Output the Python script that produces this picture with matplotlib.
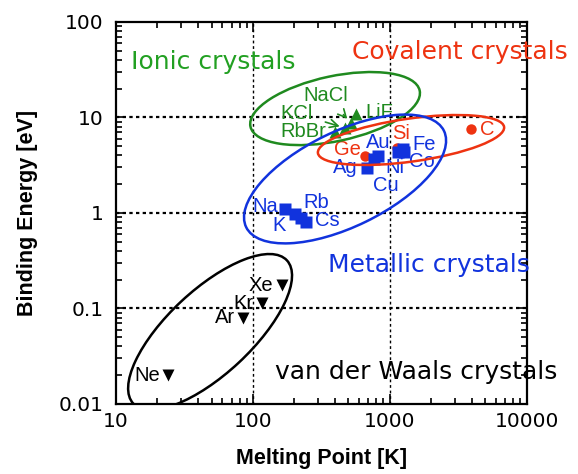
import matplotlib
matplotlib.use('Agg')
import matplotlib.pyplot as plt
from matplotlib.patches import Ellipse
from matplotlib.transforms import ScaledTranslation
from matplotlib.ticker import LogLocator, NullFormatter

# melting point [K], binding energy [eV]
ionic_names = ['LiF', 'NaCl', 'KCl', 'RbBr']
ionic_tm = [568, 522, 472, 399]
ionic_eb = [10.9, 8.75, 7.76, 7.05]

covalent_names = ['Ge', 'Si', 'C']
covalent_tm = [661, 1127, 3935]
covalent_eb = [3.95, 4.75, 7.5]

metal_names = ['Cu', 'Au', 'Ag', 'Fe', 'Co', 'Ni', 'Na', 'K', 'Rb', 'Cs']
metal_tm = [769, 822, 678, 1253, 1274, 1151, 173, 203, 225, 245]
metal_eb = [3.68, 3.95, 2.94, 4.73, 4.35, 4.35, 1.11, 0.976, 0.887, 0.805]

vdw_names = ['Xe', 'Kr', 'Ar', 'Ne']
vdw_tm = [163, 116, 84.3, 24.1]
vdw_eb = [0.176, 0.113, 0.080, 0.0201]

xticks = [10, 100, 1000, 10000]
xticklabels = ['10', '100', '1000', '10000']
yticks = [0.01, 0.1, 1, 10, 100]
yticklabels = ['0.01', '0.1', '1', '10', '100']

green = '#1f8a1f'
red = '#ee3311'
blue = '#1133dd'

# label offsets from the marker, in pixels
offsets = {
    'LiF': (23, 1.5), 'NaCl': (-25, 28), 'KCl': (-48, 14.5), 'RbBr': (-32, 0.5),
    'Ge': (-18, 7), 'Si': (4, 14.5), 'C': (16, 0),
    'Au': (0, 13.5), 'Cu': (11.5, -27), 'Ag': (-21.5, 1), 'Fe': (21, 4.5),
    'Co': (17.5, -9.5), 'Ni': (-3, -15.5), 'Na': (-20, 2), 'K': (-16, -11.5),
    'Rb': (15, 15.5), 'Cs': (21.5, 1.5),
    'Xe': (-21.5, 0), 'Kr': (-18, 0), 'Ar': (-18, 0), 'Ne': (-21, 0),
}
arrows = ['NaCl', 'KCl']

fig = plt.figure(figsize=(5.78, 4.74), dpi=100)
ax = fig.add_axes([0.2007, 0.1477, 0.7102, 0.8059])
ax.set_xscale('log')
ax.set_yscale('log')
ax.set_xlim(10, 10000)
ax.set_ylim(0.01, 100)

ax.plot(covalent_tm, covalent_eb, 'o', color=red, ms=7.5, mec='none', zorder=3)
ax.plot(ionic_tm, ionic_eb, '^', color=green, ms=9, mec='none', zorder=3)
ax.plot(metal_tm, metal_eb, 's', color=blue, ms=8.5, mec='none', zorder=4)
ax.plot(vdw_tm, vdw_eb, 'v', color='black', ms=8.5, mec='none', zorder=3)

label_font = dict(family='Liberation Sans', fontsize=14.5)


def put_labels(names, xs, ys, color):
    for n, x, y in zip(names, xs, ys):
        dx, dy = offsets[n]
        if n in arrows:
            ax.annotate(n, (x, y), xytext=(dx, dy), textcoords='offset pixels',
                        ha='center', va='center', color=color, **label_font,
                        arrowprops=dict(arrowstyle='->', color=color, lw=1.2,
                                        shrinkA=7, shrinkB=4))
        else:
            ax.annotate(n, (x, y), xytext=(dx, dy), textcoords='offset pixels',
                        ha='center', va='center', color=color, **label_font)


put_labels(ionic_names, ionic_tm, ionic_eb, green)
put_labels(covalent_names, covalent_tm, covalent_eb, red)
put_labels(metal_names, metal_tm, metal_eb, blue)
put_labels(vdw_names, vdw_tm, vdw_eb, 'black')

# group ellipses: centre in data, size in pixels
ellipses = [
    ((399, 12.4), 173, 65, 12, green),
    ((1432, 5.81), 188, 43, 8, red),
    ((472, 2.27), 220, 95, 26, blue),
    ((48.7, 0.0568), 210, 84, 43, 'black'),
]
for (cx, cy), w, h, ang, col in ellipses:
    tr = fig.dpi_scale_trans + ScaledTranslation(cx, cy, ax.transData)
    e = Ellipse((0, 0), w / 100, h / 100, angle=ang, fill=False,
                edgecolor=col, lw=1.8, transform=tr, zorder=5)
    ax.add_artist(e)

group_font = dict(family='DejaVu Sans', fontsize=18)
ax.text(0.0365, 0.895, 'Ionic crystals', transform=ax.transAxes, color='#22a022',
        ha='left', va='center', **group_font)
ax.text(0.575, 0.921, 'Covalent crystals', transform=ax.transAxes, color=red,
        ha='left', va='center', **group_font)
ax.text(0.516, 0.364, 'Metallic crystals', transform=ax.transAxes, color=blue,
        ha='left', va='center', **group_font)
ax.text(0.387, 0.084, 'van der Waals crystals', transform=ax.transAxes,
        color='black', ha='left', va='center', **group_font)

# dotted grid at decades
for v in [0.1, 1, 10]:
    ax.axhline(v, color='black', lw=1.6, ls=(0, (1.5, 1.5)), zorder=1)
for v in [100, 1000]:
    ax.axvline(v, color='black', lw=1.0, ls=(0, (2, 2)), zorder=1)

ax.set_xticks(xticks)
ax.set_xticklabels(xticklabels)
ax.set_yticks(yticks)
ax.set_yticklabels(yticklabels)
ax.xaxis.set_minor_locator(LogLocator(base=10, subs=range(2, 10)))
ax.yaxis.set_minor_locator(LogLocator(base=10, subs=range(2, 10)))
ax.xaxis.set_minor_formatter(NullFormatter())
ax.yaxis.set_minor_formatter(NullFormatter())
ax.tick_params(which='both', direction='in', top=True, right=True, width=1.2)
ax.tick_params(which='major', length=7)
ax.tick_params(which='minor', length=4)
ax.tick_params(axis='y', which='major', pad=9, labelsize=14.5)
ax.tick_params(axis='x', which='major', pad=6, labelsize=14.5)
for s in ax.spines.values():
    s.set_linewidth(1.6)

ax.set_xlabel('Melting Point [K]', fontsize=15.5, fontweight='bold',
              family='Liberation Sans', labelpad=12)
ax.set_ylabel('Binding Energy [eV]', fontsize=15.5, fontweight='bold',
              family='Liberation Sans', labelpad=15)

fig.savefig('out.png', dpi=100)
